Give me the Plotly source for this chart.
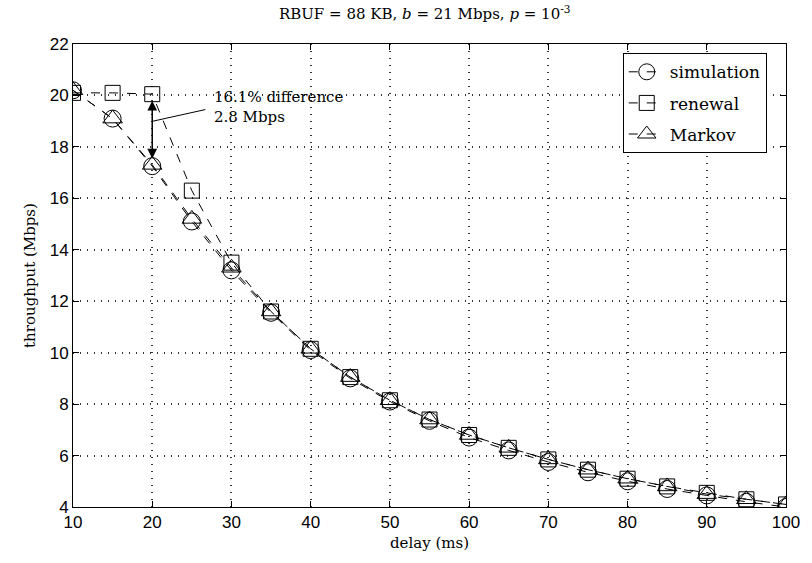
import plotly.graph_objects as go

delay = [10, 15, 20, 25, 30, 35, 40, 45, 50, 55, 60, 65, 70, 75, 80, 85, 90, 95, 100]
simulation = [20.2, 19.1, 17.25, 15.1, 13.2, 11.55, 10.1, 9.0, 8.1, 7.35, 6.7, 6.2, 5.75, 5.35, 5.0, 4.7, 4.45, 4.2, 4.0]
renewal = [20.1, 20.1, 20.05, 16.3, 13.5, 11.6, 10.15, 9.05, 8.15, 7.4, 6.8, 6.3, 5.85, 5.45, 5.1, 4.8, 4.55, 4.3, 4.1]
markov = [20.2, 19.1, 17.3, 15.2, 13.3, 11.6, 10.15, 9.05, 8.15, 7.4, 6.8, 6.3, 5.85, 5.45, 5.1, 4.8, 4.5, 4.3, 4.1]
x_ticks = [10, 20, 30, 40, 50, 60, 70, 80, 90, 100]
y_ticks = [4, 6, 8, 10, 12, 14, 16, 18, 20, 22]

serif = "DejaVu Serif"
sans = "Liberation Sans"

fig = go.Figure()
series = [
    ("simulation", simulation, "circle-open", 17),
    ("renewal", renewal, "square-open", 15),
    ("Markov", markov, "triangle-up-open", 17),
]
for name, vals, sym, sz in series:
    fig.add_trace(go.Scatter(
        x=delay, y=vals, name=name, mode="lines+markers", legendgroup=name,
        line=dict(color="black", width=1, dash="dash"),
        marker=dict(symbol=sym, size=sz, color="black", line=dict(width=1, color="black")),
    ))

# double-headed arrow for difference
fig.add_annotation(x=20, y=17.55, ax=20, ay=19.85, xref="x", yref="y", axref="x", ayref="y",
                   showarrow=True, arrowhead=2, startarrowhead=2, arrowside="end+start",
                   arrowsize=1.3, startarrowsize=1.3, arrowwidth=1.5, arrowcolor="black", text="")
fig.add_shape(type="line", x0=20.1, y0=19.0, x1=26.7, y1=19.45, xref="x", yref="y",
              line=dict(color="black", width=1))
fig.add_annotation(x=27.5, y=19.55, xref="x", yref="y", showarrow=False,
                   text="16.1% difference<br>2.8 Mbps", align="left", xanchor="left", yanchor="middle",
                   font=dict(family=serif, size=15, color="black"), bgcolor="rgba(255,255,255,0)")

fig.update_layout(
    width=812, height=563,
    margin=dict(l=73, r=26, t=44, b=56),
    paper_bgcolor="white", plot_bgcolor="white",
    title=dict(text="RBUF = 88 KB, <i>b</i> = 21 Mbps, <i>p</i> = 10<sup>-3</sup>",
               x=0.523, xanchor="center", y=0.975, yanchor="middle",
               font=dict(family=serif, size=15, color="black")),
    showlegend=True,
    legend=dict(x=0.973, y=0.98, xanchor="right", yanchor="top",
                bordercolor="black", borderwidth=1, bgcolor="white",
                font=dict(family=serif, size=17, color="black"),
                itemwidth=36, tracegroupgap=6),
    xaxis=dict(range=[10, 100], tickvals=x_ticks, ticks="inside", ticklen=6,
               tickcolor="black", showline=True, linecolor="black", linewidth=1, mirror="ticks",
               showgrid=True, gridcolor="#333", griddash="1px,6px", gridwidth=1.5, zeroline=False,
               tickfont=dict(family=sans, size=17, color="black"),
               title=dict(text="delay (ms)", font=dict(family=serif, size=15, color="black"), standoff=6)),
    yaxis=dict(range=[4, 22], tickvals=y_ticks, ticks="inside", ticklen=6,
               tickcolor="black", showline=True, linecolor="black", linewidth=1, mirror="ticks",
               showgrid=True, gridcolor="#333", griddash="1px,6px", gridwidth=1.5, zeroline=False,
               tickfont=dict(family=sans, size=17, color="black"),
               title=dict(text="throughput (Mbps)", font=dict(family=serif, size=15, color="black"), standoff=10)),
)

fig.write_html("out.html")
